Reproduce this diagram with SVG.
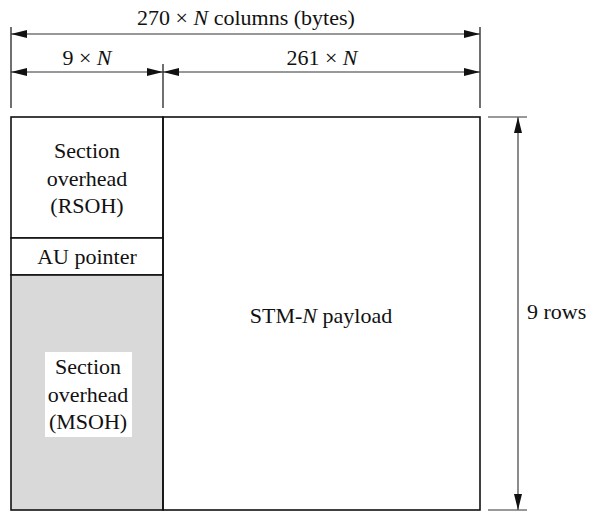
<svg xmlns="http://www.w3.org/2000/svg" width="589" height="514" viewBox="0 0 589 514">
<style>
text{font-family:"Liberation Serif","Times New Roman",Tinos,"Noto Serif","Nimbus Roman","Nimbus Roman No9 L","FreeSerif","DejaVu Serif",Times,serif;font-size:22px;fill:#111}
.c{text-anchor:middle}
.dim{stroke:#333;stroke-width:1.2;fill:none}
.tick{stroke:#222;stroke-width:1.3}
.box{stroke:#111;stroke-width:1.6}
.white{fill:#fff}
.gray{fill:#d9d9d9}
.none{fill:none}
</style>
<defs>
<marker id="ah" viewBox="0 0 16 8" refX="16" refY="4" markerWidth="16" markerHeight="8" markerUnits="userSpaceOnUse" orient="auto-start-reverse">
<path d="M0,0 L16,4 L0,8 Z" fill="#111"/>
</marker>
</defs>
<g id="connectors">
<line class="tick" x1="11" y1="27" x2="11" y2="108"/>
<line class="tick" x1="480" y1="27" x2="480" y2="108"/>
<line class="tick" x1="163" y1="64" x2="163" y2="108"/>
<line class="dim" x1="11" y1="34" x2="480" y2="34" marker-start="url(#ah)" marker-end="url(#ah)"/>
<line class="dim" x1="11" y1="72" x2="163" y2="72" marker-start="url(#ah)" marker-end="url(#ah)"/>
<line class="dim" x1="163" y1="72" x2="480" y2="72" marker-start="url(#ah)" marker-end="url(#ah)"/>
<line stroke="#777" stroke-width="1.5" x1="488" y1="117" x2="527" y2="117"/>
<line stroke="#777" stroke-width="1.5" x1="488" y1="510" x2="527" y2="510"/>
<line stroke="#666" stroke-width="1.5" x1="518" y1="117" x2="518" y2="510" marker-start="url(#ah)" marker-end="url(#ah)"/>
</g>
<g id="labels">
<text class="c" x="246" y="25">270 × <tspan font-style="italic">N</tspan> columns (bytes)</text>
<text class="c" x="87" y="65">9 × <tspan font-style="italic">N</tspan></text>
<text class="c" x="322" y="65">261 × <tspan font-style="italic">N</tspan></text>
<text x="527" y="319">9 rows</text>
</g>
<g id="rsoh">
<rect x="11" y="117" width="152" height="121" class="box white"/>
<text class="c" x="87" y="158">Section</text>
<text class="c" x="87" y="186">overhead</text>
<text class="c" x="87" y="213">(RSOH)</text>
</g>
<g id="au-pointer">
<rect x="11" y="238" width="152" height="37" class="box white"/>
<text class="c" x="87" y="264">AU pointer</text>
</g>
<g id="msoh">
<rect x="11" y="275" width="152" height="235" class="box gray"/>
<rect x="45" y="352" width="87" height="85" class="white"/>
<text class="c" x="88" y="374">Section</text>
<text class="c" x="88" y="402">overhead</text>
<text class="c" x="88" y="429">(MSOH)</text>
</g>
<g id="payload">
<rect x="163" y="117" width="317" height="393" class="box none"/>
<text class="c" x="321" y="323">STM-<tspan font-style="italic">N</tspan> payload</text>
</g>
</svg>
